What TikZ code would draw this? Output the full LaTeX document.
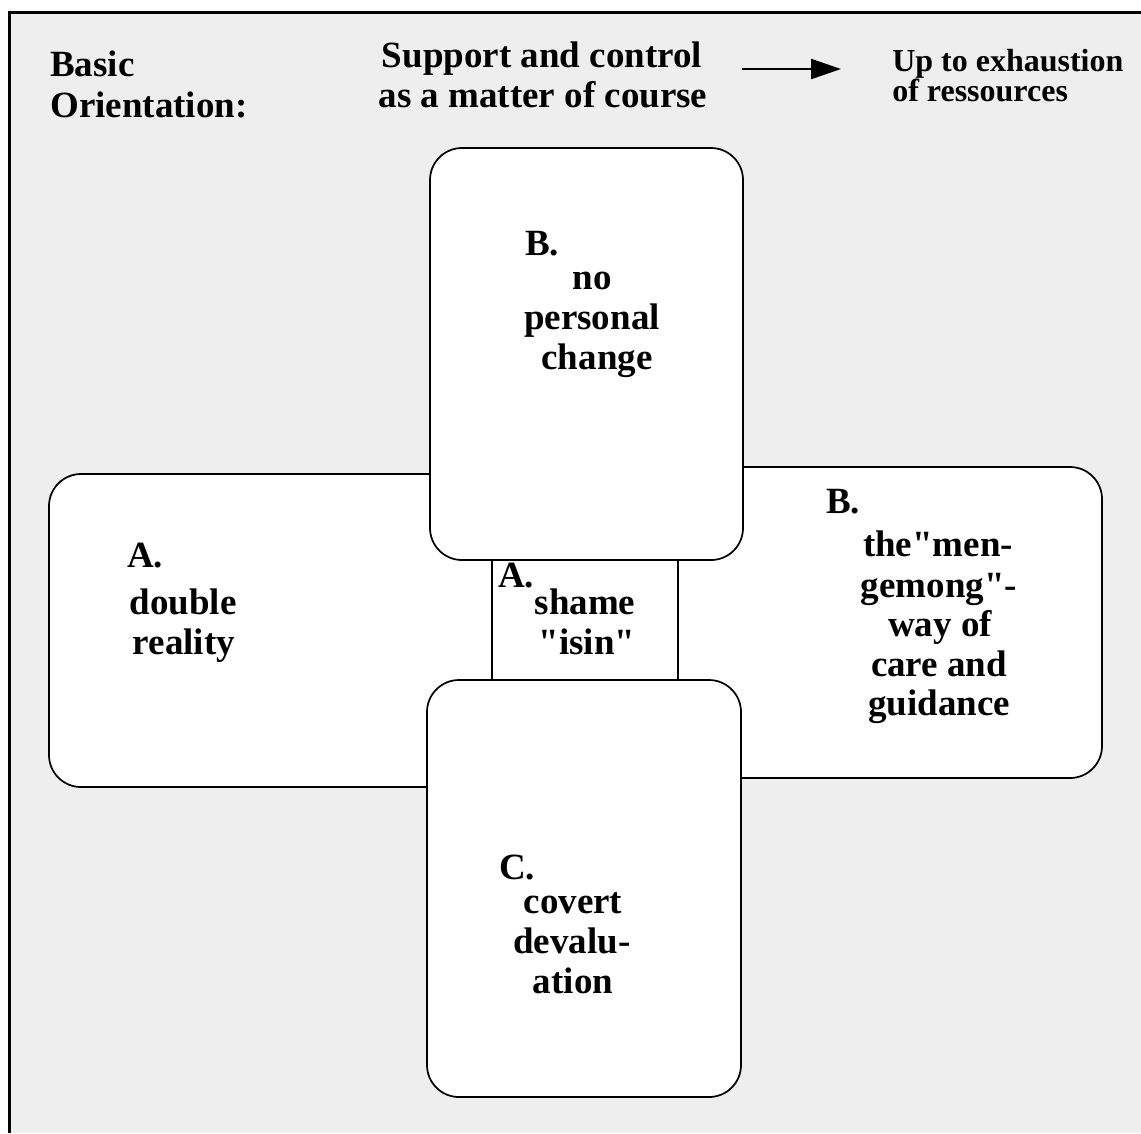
\documentclass[tikz,border=0pt]{standalone}
\usepackage{fontspec}
\setmainfont{Liberation Serif}
\newfontfamily\qfont{Liberation Serif}
\usetikzlibrary{arrows.meta}
\definecolor{bg}{HTML}{EEEEEE}
\newcommand{\sq}{{\qfont\bfseries"}}
\tikzset{
  boxshape/.style={line width=1.3pt, rounded corners=24pt},
  txt/.style={font=\bfseries\fontsize{27.75}{30}\selectfont, inner sep=0pt, anchor=base},
  txtl/.style={txt, anchor=base west},
  smalltxt/.style={font=\bfseries\fontsize{24}{26}\selectfont, inner sep=0pt, anchor=base west},
}
\begin{document}
\begin{tikzpicture}[x=0.75pt,y=-0.75pt]
\useasboundingbox (0,0) rectangle (1141,1133);
% background and frame
\fill[white] (0,0) rectangle (1141,1133);
\fill[bg] (10,12) rectangle (1141,1133);
\draw[line width=1.7pt] (1141,12.5) -- (9.5,12.5) -- (9.5,1133);
% side boxes
\fill[white, boxshape] (49,474) rectangle (678,787);
\fill[white, boxshape] (492,467) rectangle (1102,778);
\draw[boxshape] (49,474) rectangle (678,787);
\draw[boxshape] (492,467) rectangle (1102,778);
% vertical boxes
\filldraw[fill=white, boxshape] (430,148) rectangle (743,560);
\filldraw[fill=white, boxshape] (427,680) rectangle (741,1097);
% header
\node[txtl] (basic) at (50,76) {Basic};
\node[txtl] (orient) at (50,117) {Orientation:};
\node[txt] (sup1) at (542,67) {Support and control};
\node[txt] (sup2) at (543,107) {as a matter of course};
\coordinate (arrS) at (742,69);
\coordinate (arrE) at (841,69);
\draw[line width=1.7pt, -{Triangle[length=22.5pt,width=15pt]}] (arrS) -- (arrE);
\node[smalltxt] (up1) at (892,71) {Up to exhaustion};
\node[smalltxt] (up2) at (892,101) {of ressources};
% top box text
\node[txtl] (tB) at (525,255) {B.};
\node[txt] (t1) at (592,289) {no};
\node[txt] (t2) at (592,329) {personal};
\node[txt] (t3) at (597,369) {change};
% left box text
\node[txtl] (lA) at (127,567) {A.};
\node[txt] (l1) at (183,614) {double};
\node[txt] (l2) at (184,654) {reality};
% right box text
\node[txtl] (rB) at (826,513) {B.};
\node[txt] (r1) at (938,556) {the\sq men-};
\node[txt] (r2) at (939,597) {gemong\sq-};
\node[txt] (r3) at (940,636) {way of};
\node[txt] (r4) at (939,676) {care and};
\node[txt] (r5) at (939,715) {guidance};
% bottom box text
\node[txtl] (bC) at (499,879) {C.};
\node[txt] (b1) at (573,913) {covert};
\node[txt] (b2) at (572,953) {devalu-};
\node[txt] (b3) at (573,993) {ation};
% centre text
\node[txtl] (cA) at (498,587) {A.};
\node[txt] (c1) at (585,614) {shame};
\node[txt] (c2) at (587,654) {\sq isin\sq};
\end{tikzpicture}
\end{document}
